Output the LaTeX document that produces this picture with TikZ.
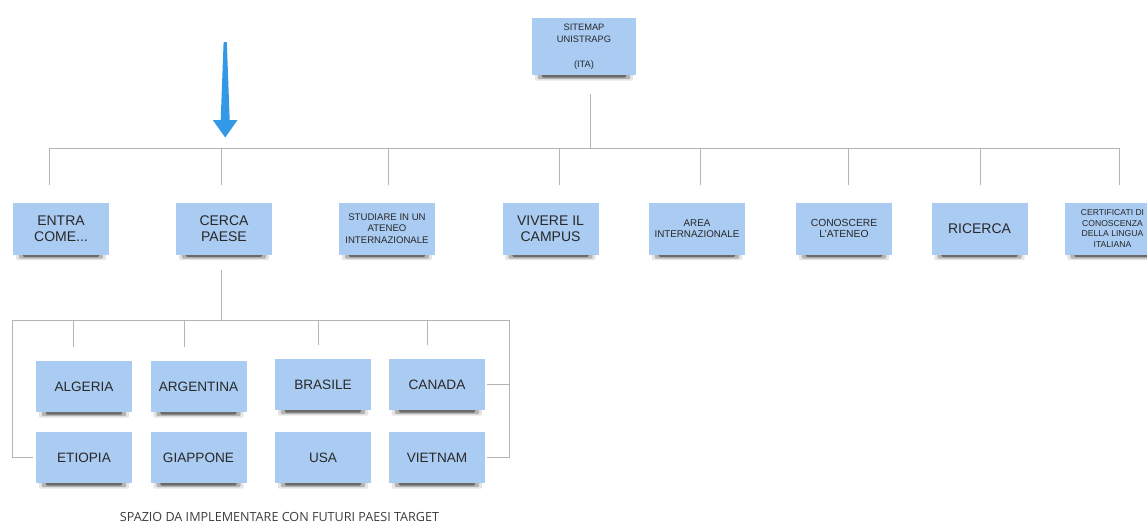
\documentclass[tikz,border=0pt]{standalone}
\usepackage{fontspec}
\setmainfont{Liberation Sans}
\newfontfamily\captionfont{Open Sans}
\usetikzlibrary{calc,backgrounds}

\definecolor{notefill}{RGB}{170,203,242}
\definecolor{linkgray}{RGB}{180,180,180}
\definecolor{inkgray}{RGB}{40,40,40}
\definecolor{arrowblue}{RGB}{51,153,230}

\tikzset{
  note/.style={fill=notefill, text=inkgray, align=center, inner sep=1pt,
    minimum width=96pt, minimum height=52pt},
  shade1/.style={fill=black, opacity=.10, rounded corners=2pt},
  shade2/.style={fill=black, opacity=.22, rounded corners=2pt},
  shade3/.style={fill=black, opacity=.40, rounded corners=1.5pt},
  link/.style={draw=linkgray, line width=1pt},
  fbig/.style={font=\fontsize{14}{16}\selectfont},
  fcountry/.style={font=\fontsize{13.6}{15}\selectfont},
  fmid/.style={font=\fontsize{10.3}{10.8}\selectfont},
  fsmall/.style={font=\fontsize{9.6}{11.2}\selectfont},
  ftiny/.style={font=\fontsize{8.6}{10.7}\selectfont},
}

\begin{document}
\begin{tikzpicture}[x=1pt,y=-1pt]
\useasboundingbox (0,0) rectangle (1147,522);
\clip (0,0) rectangle (1147,522);

% root of the site map
\node[note, font=\fontsize{9.3}{12}\selectfont, minimum width=104pt, minimum height=57pt]
  (root) at (584,46.5) {SITEMAP\\UNISTRAPG\\[13pt](ITA)};

% first level sections
\node[note, fbig]   (entra)       at (61,228.5)    {ENTRA\\COME...};
\node[note, fbig]   (cerca)       at (224,228.5)   {CERCA\\PAESE};
\node[note, fsmall] (studiare)    at (387,228.5)   {STUDIARE IN UN\\ATENEO\\INTERNAZIONALE};
\node[note, fbig]   (vivere)      at (550.5,228.5) {VIVERE IL\\CAMPUS};
\node[note, font=\fontsize{9.8}{10.5}\selectfont] (area) at (697,228.5) {AREA\\INTERNAZIONALE};
\node[note, fmid]   (conoscere)   at (844,228.5)   {CONOSCERE\\L'ATENEO};
\node[note, font=\fontsize{14}{15}\selectfont] (ricerca) at (979.5,228.5) {RICERCA};
\node[note, ftiny]  (certificati) at (1112.5,228.5) {CERTIFICATI DI\\CONOSCENZA\\DELLA LINGUA\\ITALIANA};

% countries under CERCA PAESE
\node[note, fcountry, minimum height=51pt] (algeria)   at (84,386.5)  {ALGERIA};
\node[note, fcountry, minimum height=51pt] (argentina) at (198.5,386.5) {ARGENTINA};
\node[note, fcountry, minimum height=51pt] (brasile)   at (323,384.5) {BRASILE};
\node[note, fcountry, minimum height=51pt] (canada)    at (437,384.5) {CANADA};
\node[note, fcountry, minimum height=51pt] (etiopia)   at (84,457.5)  {ETIOPIA};
\node[note, fcountry, minimum height=51pt] (giappone)  at (198.5,457.5) {GIAPPONE};
\node[note, fcountry, minimum height=51pt] (usa)       at (323,457.5) {USA};
\node[note, fcountry, minimum height=51pt] (vietnam)   at (437,457.5) {VIETNAM};

% soft sticky-note shadows under every box
\begin{scope}[on background layer]
\foreach \n in {root, entra, cerca, studiare, vivere, area, conoscere, ricerca, certificati,
                algeria, argentina, brasile, canada, etiopia, giappone, usa, vietnam}{
  \fill[shade1] ([xshift=3pt,yshift=-5.5pt]\n.south west) rectangle ([xshift=-3pt,yshift=10pt]\n.south east);
  \fill[shade2] ([xshift=6pt,yshift=-4pt]\n.south west) rectangle ([xshift=-6pt,yshift=10pt]\n.south east);
  \fill[shade3] ([xshift=10pt,yshift=-2.5pt]\n.south west) rectangle ([xshift=-10pt,yshift=10pt]\n.south east);
}
\end{scope}

% first level bus
\coordinate (bus) at (0,148);
\coordinate (stemtop) at ([xshift=6pt,yshift=-19pt]root.south);
\draw[link] (stemtop) -- (stemtop |- bus);
\draw[link] ([xshift=-12pt]entra.north |- bus) -- ([xshift=6.5pt]certificati.north |- bus);
\foreach \n/\dx in {entra/-12, cerca/-3, studiare/1, vivere/8.5, area/3,
                    conoscere/4, ricerca/0.5, certificati/6.5}{
  \draw[link] ([xshift=\dx pt]\n.north |- bus) -- ([xshift=\dx pt, yshift=17pt]\n.north);
}

% country bus
\coordinate (cbus) at (0,320);
\coordinate (cstem) at ([xshift=-3pt,yshift=-15pt]cerca.south);
\draw[link] (cstem) -- (cstem |- cbus);
\coordinate (cleft) at (12,320);
\coordinate (cright) at (509,320);
\draw[link] ([xshift=-3pt]etiopia.west) -- (cleft |- etiopia.west) -- (cleft) -- (cright)
  -- (cright |- vietnam.east) -- ([xshift=2pt]vietnam.east);
\draw[link] (cright |- canada.east) -- ([xshift=2pt]canada.east);
\foreach \n/\dx in {algeria/-11, argentina/-14.5, brasile/-5, canada/-10}{
  \draw[link] ([xshift=\dx pt]\n.north |- cbus) -- ([xshift=\dx pt, yshift=14pt]\n.north);
}

% highlight arrow pointing at CERCA PAESE
\fill[arrowblue] (223.6,42) -- (226.8,42) -- (229.7,120) -- (237.5,120) -- (225.2,137.5)
  -- (212.8,120) -- (220.7,120) -- cycle;

% note under the country grid
\node[text=inkgray!90, font=\captionfont\fontsize{12.6}{14}\selectfont, inner sep=0pt]
  (spazio) at (279.5,516.5) {SPAZIO DA IMPLEMENTARE CON FUTURI PAESI TARGET};
\end{tikzpicture}
\end{document}
